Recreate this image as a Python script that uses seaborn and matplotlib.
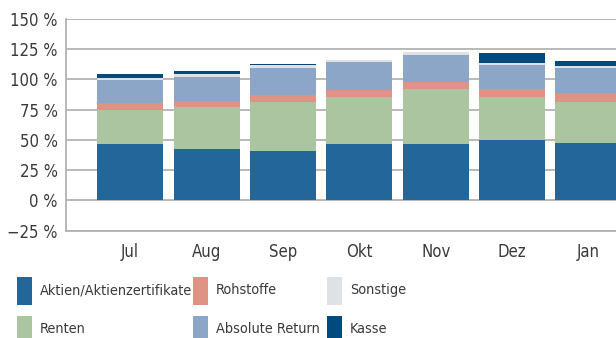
import matplotlib
matplotlib.use("Agg")
import matplotlib.pyplot as plt
from matplotlib.patches import Rectangle
import seaborn as sns
import pandas as pd
import numpy as np

months = ["Jul", "Aug", "Sep", "Okt", "Nov", "Dez", "Jan"]
aktien = [46.4, 42.3, 40.6, 46.4, 46.4, 49.7, 47.2]
renten = [28.2, 34.8, 40.6, 39.0, 45.6, 35.7, 34.0]
rohstoffe = [5.8, 4.9, 5.8, 6.0, 6.1, 6.6, 7.5]
absolute_return = [19.0, 19.9, 22.4, 23.0, 22.1, 19.9, 20.7]
sonstige = [1.7, 2.5, 2.5, 1.6, 2.4, 1.6, 1.6]
kasse = [3.3, 2.5, 0.8, 0.0, 0.0, 8.3, 4.2]

series = [
    ("Aktien/Aktienzertifikate", aktien, "#23679a"),
    ("Renten", renten, "#aac5a0"),
    ("Rohstoffe", rohstoffe, "#e09285"),
    ("Absolute Return", absolute_return, "#8ba6c7"),
    ("Sonstige", sonstige, "#dfe2e5"),
    ("Kasse", kasse, "#004a7c"),
]

sns.set_theme(style="white")
plt.rcParams["font.family"] = ["DejaVu Sans"]
plt.rcParams["font.stretch"] = "condensed"
text_color = "#3a3a3a"
grid_color = "#b3b3b3"

W, H = 616, 338
fig = plt.figure(figsize=(W / 100, H / 100), dpi=100)
ax = fig.add_axes([66 / W, 1 - 230.7 / H, 1 - 66 / W, (230.7 - 19) / H])

bottom = np.zeros(len(months))
for name, vals, color in series:
    df = pd.DataFrame({"Monat": months, "Wert": vals})
    sns.barplot(data=df, x="Monat", y="Wert", color=color, bottom=bottom,
                width=0.865, saturation=1, ax=ax, linewidth=0, zorder=3)
    bottom = bottom + np.array(vals)

ax.set_ylim(-25, 150)
ax.set_xlim(-0.84, 6.36)
yt = [-25, 0, 25, 50, 75, 100, 125, 150]
ax.set_yticks(yt)
ax.set_yticklabels([f"{v} %".replace("-", "\u2212") for v in yt])
ax.yaxis.grid(True, color=grid_color, linewidth=1.3, zorder=0)
ax.set_axisbelow(True)
for s in ["top", "right"]:
    ax.spines[s].set_visible(False)
for s in ["left", "bottom"]:
    ax.spines[s].set_color(grid_color)
    ax.spines[s].set_linewidth(1.3)
ax.set_xlabel("")
ax.set_ylabel("")
ax.tick_params(axis="y", length=0, pad=6, labelsize=12, labelcolor=text_color)
ax.tick_params(axis="x", length=0, pad=9, labelsize=12, labelcolor=text_color)

# legend: three columns of two entries, swatch + label, in pixel positions
col_x = [17, 193, 327]
row_y = [291, 330]
for i, (name, _, color) in enumerate(series):
    col, row = divmod(i, 2)
    x0, yc = col_x[col], row_y[row]
    fig.add_artist(Rectangle(((x0) / W, 1 - (yc + 14) / H), 14.5 / W, 28 / H,
                             transform=fig.transFigure, facecolor=color,
                             edgecolor="none"))
    fig.text((x0 + 23) / W, 1 - (yc - 1) / H, name, fontsize=10.4,
             color=text_color, va="center", ha="left")

fig.savefig("out.png", dpi=100)
